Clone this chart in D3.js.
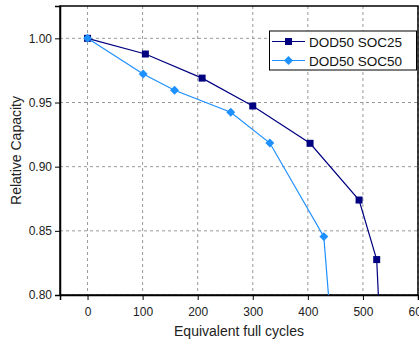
<!DOCTYPE html>
<html><head><meta charset="utf-8">
<script src="https://cdn.jsdelivr.net/npm/d3@7"></script>
<style>body{margin:0;background:#fff}svg{display:block;font-family:"Liberation Sans",Arial,sans-serif}</style>
</head><body><div id="chart"></div>
<script>
const seriesNames = ["DOD50 SOC25", "DOD50 SOC50"];
const soc25X = [0, 105, 208, 300, 404, 493, 525, 539];
const soc25Y = [1.0, 0.9878, 0.969, 0.9473, 0.9182, 0.874, 0.8276, 0.70];
const soc50X = [0, 101, 158, 260, 331, 429, 456];
const soc50Y = [1.0, 0.9722, 0.9595, 0.9424, 0.9184, 0.8455, 0.70];
const xTicks = [0, 100, 200, 300, 400, 500, 600];
const yTicks = [0.80, 0.85, 0.90, 0.95, 1.00];
const xLabel = "Equivalent full cycles";
const yLabel = "Relative Capacity";
const colors = ["#000080", "#1E90FF"];

const W = 419, H = 346;
const m = {l: 60, r: 1, t: 6, b: 51};
const svg = d3.select("#chart").append("svg").attr("width", W).attr("height", H);
const x = d3.scaleLinear().domain([-50, 600]).range([m.l, W - m.r]);
const y = d3.scaleLinear().domain([0.8, 1.0252]).range([H - m.b, m.t]);

svg.append("defs").append("clipPath").attr("id", "clip")
  .append("rect").attr("x", m.l).attr("y", m.t).attr("width", W - m.r - m.l).attr("height", H - m.b - m.t);

// grid
const g = svg.append("g");
g.selectAll(".gx").data(xTicks).join("line")
  .attr("x1", d => x(d)).attr("x2", d => x(d)).attr("y1", m.t).attr("y2", H - m.b)
  .attr("stroke", "#999").attr("stroke-dasharray", "3,3").attr("stroke-width", 1);
g.selectAll(".gy").data(yTicks).join("line")
  .attr("y1", d => y(d)).attr("y2", d => y(d)).attr("x1", m.l).attr("x2", W - m.r)
  .attr("stroke", "#999").attr("stroke-dasharray", "3,3").attr("stroke-width", 1);

// frame
svg.append("rect").attr("x", m.l).attr("y", m.t).attr("width", W - m.r - m.l).attr("height", H - m.b - m.t)
  .attr("fill", "none").attr("stroke", "#000").attr("stroke-width", 1.5);

// axes
const xMinor = d3.range(-50, 601, 50);
const xa = svg.append("g").attr("transform", `translate(0,${H - m.b})`);
xa.call(d3.axisBottom(x).tickValues(xMinor).tickSize(3).tickFormat(""));
xa.call(d3.axisBottom(x).tickValues(xTicks).tickSize(5).tickFormat(d3.format("d")));
xa.selectAll(".domain").attr("stroke-width", 1.5);
xa.selectAll("text").attr("font-size", 12).attr("fill", "#222").attr("font-family", "Liberation Sans, Arial").attr("dy", "1.1em");

const yMinor = d3.range(0.8, 1.026, 0.025);
const ya = svg.append("g").attr("transform", `translate(${m.l},0)`);
ya.call(d3.axisLeft(y).tickValues(yMinor).tickSize(3).tickFormat(""));
ya.call(d3.axisLeft(y).tickValues(yTicks).tickSize(5).tickFormat(d3.format(".2f")));
ya.selectAll(".domain").attr("stroke-width", 1.5);
ya.selectAll("text").attr("font-size", 12).attr("fill", "#222").attr("font-family", "Liberation Sans, Arial");

// titles
svg.append("text").attr("x", x(275)).attr("y", 336).attr("text-anchor", "middle")
  .attr("font-size", 14).attr("fill", "#222").text(xLabel);
svg.append("text").attr("transform", `translate(21,${(m.t + H - m.b) / 2}) rotate(-90)`)
  .attr("text-anchor", "middle").attr("font-size", 14).attr("fill", "#222").text(yLabel);

// series
const data = [soc25X.map((v, i) => [v, soc25Y[i]]), soc50X.map((v, i) => [v, soc50Y[i]])];
const line = d3.line().x(d => x(d[0])).y(d => y(d[1]));
const plot = svg.append("g").attr("clip-path", "url(#clip)");
const sq = d3.symbol().type(d3.symbolSquare).size(49);
const dm = d3.symbol().type(d3.symbolSquare).size(40);
data.forEach((s, i) => {
  plot.append("path").datum(s).attr("d", line).attr("fill", "none").attr("stroke", colors[i]).attr("stroke-width", 1.2);
  plot.selectAll(".m" + i).data(s).join("path")
    .attr("transform", d => `translate(${x(d[0])},${y(d[1])})` + (i === 1 ? " rotate(45)" : ""))
    .attr("d", i === 0 ? sq : dm).attr("fill", colors[i]);
});

// legend
const lg = svg.append("g");
lg.append("rect").attr("x", 269.5).attr("y", 31).attr("width", 147).attr("height", 39)
  .attr("fill", "#fff").attr("stroke", "#000").attr("stroke-width", 1);
seriesNames.forEach((n, i) => {
  const cy = 41.5 + i * 19;
  lg.append("line").attr("x1", 272).attr("x2", 305).attr("y1", cy).attr("y2", cy).attr("stroke", colors[i]).attr("stroke-width", 1.2);
  lg.append("path").attr("transform", `translate(288.5,${cy})` + (i === 1 ? " rotate(45)" : "")).attr("d", i === 0 ? sq : dm).attr("fill", colors[i]);
  lg.append("text").attr("x", 309).attr("y", cy + 5).attr("font-size", 13.5).attr("fill", "#111").text(n);
});
</script></body></html>
